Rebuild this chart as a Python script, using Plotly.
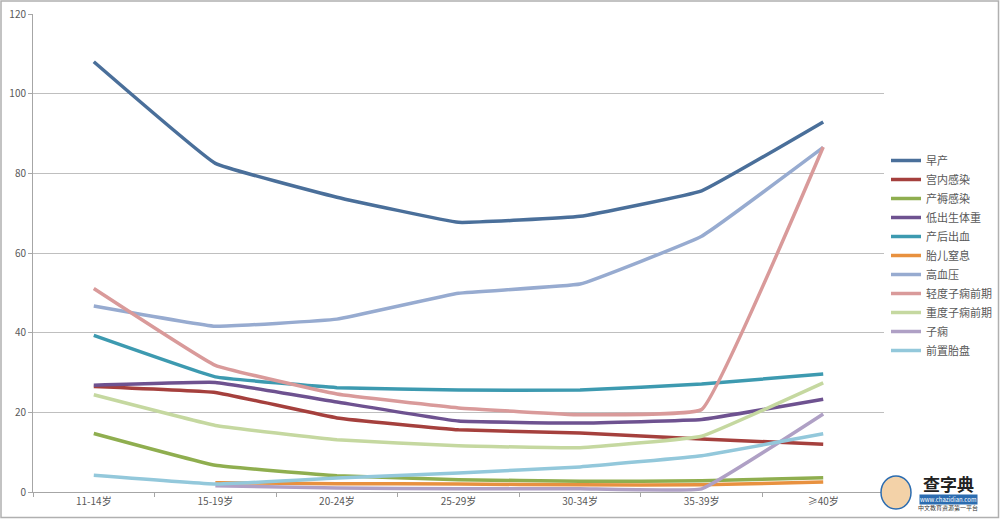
import plotly.graph_objects as go

categories = ["11-14岁", "15-19岁", "20-24岁", "25-29岁", "30-34岁", "35-39岁", "≥40岁"]

series_names = ["早产", "宫内感染", "产褥感染", "低出生体重", "产后出血", "胎儿窒息",
                "高血压", "轻度子痫前期", "重度子痫前期", "子痫", "前置胎盘"]

preterm = [108.0, 82.5, 74.0, 67.7, 69.2, 75.6, 92.9]
intrauterine_infection = [26.5, 25.0, 18.6, 15.6, 14.8, 13.3, 12.0]
puerperal_infection = [14.7, 6.7, 4.1, 3.1, 2.7, 2.8, 3.6]
low_birth_weight = [26.8, 27.5, 22.6, 17.8, 17.3, 18.2, 23.3]
pph = [39.3, 28.9, 26.2, 25.6, 25.6, 27.1, 29.6]
asphyxia = [None, 2.3, 2.1, 2.0, 1.8, 1.8, 2.5]
hypertension = [46.7, 41.6, 43.4, 49.9, 52.2, 64.2, 86.5]
mild_preeclampsia = [51.1, 31.8, 24.6, 21.1, 19.4, 20.7, 86.6]
severe_preeclampsia = [24.4, 16.7, 13.1, 11.6, 11.1, 14.0, 27.4]
eclampsia = [None, 1.6, 1.0, 0.8, 0.8, 0.8, 19.6]
placenta_previa = [4.2, 2.0, 3.5, 4.8, 6.3, 9.1, 14.6]

values = [preterm, intrauterine_infection, puerperal_infection, low_birth_weight, pph,
          asphyxia, hypertension, mild_preeclampsia, severe_preeclampsia, eclampsia,
          placenta_previa]

colors = ["#4A6F9A", "#A5403D", "#8FAE4F", "#6E5290", "#3D9AB0", "#E8913F",
          "#97ABD0", "#D99A9A", "#C5D8A0", "#AFA0C5", "#93C8DB"]

fig = go.Figure()
for name, vals, col in zip(series_names, values, colors):
    fig.add_trace(go.Scatter(
        x=categories, y=vals, name=name, mode="lines",
        line=dict(color=col, width=3.5, shape="spline", smoothing=0.25),
        connectgaps=False,
    ))

font_family = "Noto Sans CJK SC, Noto Sans, sans-serif"

L, T, B = 33, 14, 27
PW = 1000 - L          # paper width in px
PH = 519 - T - B       # paper height in px
PLOT_RIGHT = 884

def px(xp):
    return (xp - L) / PW

def py(yp):
    return (519 - B - yp) / PH

fig.update_layout(
    width=1000, height=519,
    margin=dict(l=L, r=0, t=T, b=B),
    paper_bgcolor="white", plot_bgcolor="white",
    font=dict(family=font_family, color="#595959", size=10),
    showlegend=True,
    legend=dict(x=px(886), y=py(146), xanchor="left", yanchor="top",
                font=dict(size=11, color="#595959"),
                tracegroupgap=0, itemwidth=30, bgcolor="rgba(0,0,0,0)"),
    xaxis=dict(type="category", categoryorder="array", categoryarray=categories,
               domain=[0, px(PLOT_RIGHT)], range=[-0.5, 6.5],
               showgrid=False, showline=True, linecolor="#A6A6A6", linewidth=1,
               ticks="outside", tickson="boundaries", ticklen=4, tickcolor="#A6A6A6",
               tickfont=dict(size=10, color="#595959"), zeroline=False),
    yaxis=dict(range=[0, 120], dtick=20, showgrid=True, gridcolor="#BFBFBF", gridwidth=1,
               showline=True, linecolor="#A6A6A6", linewidth=1,
               ticks="outside", ticklen=4, tickcolor="#A6A6A6",
               tickfont=dict(size=10, color="#595959"), zeroline=False),
)

# outer border of the picture
fig.add_shape(type="rect", xref="paper", yref="paper",
              x0=px(1), x1=px(998.5), y0=py(517.5), y1=py(1),
              line=dict(color="#B0B0B0", width=1.5), fillcolor="rgba(0,0,0,0)")

# watermark
fig.add_shape(type="circle", xref="paper", yref="paper",
              x0=px(881), x1=px(911), y0=py(509), y1=py(476),
              line=dict(color="#2B6CB0", width=1.5), fillcolor="#F3D2A8")
fig.add_annotation(xref="paper", yref="paper", x=px(948), y=py(483),
                   text="<b>查字典</b>", showarrow=False, font=dict(size=17, color="#222222"),
                   xanchor="center", yanchor="middle")
fig.add_annotation(xref="paper", yref="paper", x=px(948), y=py(499),
                   text="www.chazidian.com", showarrow=False,
                   font=dict(size=6, color="white"), bgcolor="#2B6CB0",
                   xanchor="center", yanchor="middle", borderpad=0)
fig.add_annotation(xref="paper", yref="paper", x=px(948), y=py(507),
                   text="中文教育资源第一平台", showarrow=False,
                   font=dict(size=6, color="#333333"),
                   xanchor="center", yanchor="middle")

fig.write_html("out.html")
